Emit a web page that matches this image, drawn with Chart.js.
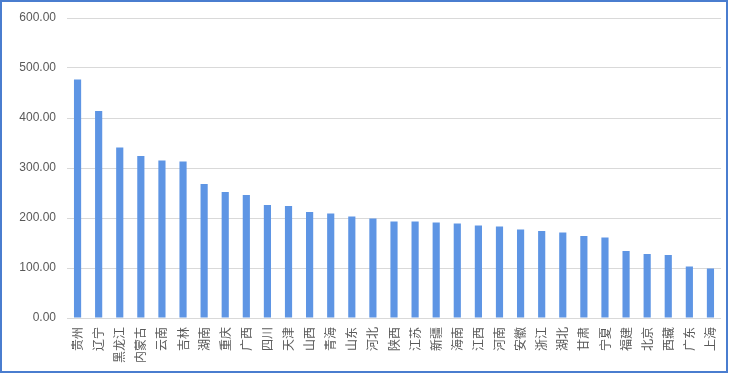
<!DOCTYPE html>
<html>
<head>
<meta charset="utf-8">
<script src="https://cdn.jsdelivr.net/npm/chart.js@4"></script>
<style>
  body { margin: 0; background: #fff; }
  #wrap { position: relative; width: 730px; height: 374px; }
  #frame {
    position: absolute; left: 0; top: 0; width: 728px; height: 373px;
    box-sizing: border-box; border: 2px solid #4a7dcf; pointer-events: none;
  }
</style>
</head>
<body>
<div id="wrap">
  <canvas id="chart1" width="730" height="374"></canvas>
  <div id="frame"></div>
</div>
<script>
// provinces, left to right
const provinces = ['贵州', '辽宁', '黑龙江', '内蒙古', '云南', '吉林', '湖南', '重庆', '广西', '四川',
  '天津', '山西', '青海', '山东', '河北', '陕西', '江苏', '新疆', '海南', '江西',
  '河南', '安徽', '浙江', '湖北', '甘肃', '宁夏', '福建', '北京', '西藏', '广东', '上海'];

const values = [477, 414, 341, 324, 315, 313, 268, 252, 246, 226,
  224, 212, 209, 203, 199, 193, 193, 191, 189, 185,
  183, 177, 174, 171, 164, 161, 134, 128, 126, 103, 99];

const yMin = 0;
const yMax = 600;
const yStep = 100;

const ctx = document.getElementById('chart1');

const data = {
    labels: provinces,
    datasets: [{
        data: values,
        backgroundColor: 'rgb(94, 149, 228)',
        categoryPercentage: 1,
        barPercentage: 0.34
    }]
};

const config = {
    type: 'bar',
    data: data,
    options: {
        responsive: false,
        animation: false,
        layout: {
            padding: { left: 0, right: 9, top: 18, bottom: 0 }
        },
        plugins: {
            legend: { display: false },
            tooltip: { enabled: false }
        },
        scales: {
            x: {
                grid: { display: false, drawTicks: false },
                border: { display: false },
                ticks: {
                    autoSkip: false,
                    minRotation: 90,
                    maxRotation: 90,
                    padding: 9,
                    color: '#595959',
                    font: { family: '"Noto Sans CJK SC"', size: 12 }
                },
                afterFit: function (scale) {
                    scale.height = 56;
                    scale.paddingLeft = 0;
                    scale.paddingRight = 0;
                }
            },
            y: {
                min: yMin,
                max: yMax,
                grid: { color: '#d9d9d9', lineWidth: 1, drawTicks: false },
                border: { display: false },
                ticks: {
                    stepSize: yStep,
                    padding: 11,
                    color: '#595959',
                    font: { family: '"Liberation Sans", Arial', size: 12 },
                    callback: function (v) { return v.toFixed(2); }
                },
                afterFit: function (scale) {
                    scale.width = 67;
                    scale.paddingTop = 0;
                    scale.paddingBottom = 0;
                }
            }
        }
    }
};

let chart = new Chart(ctx, config);
</script>
</body>
</html>
